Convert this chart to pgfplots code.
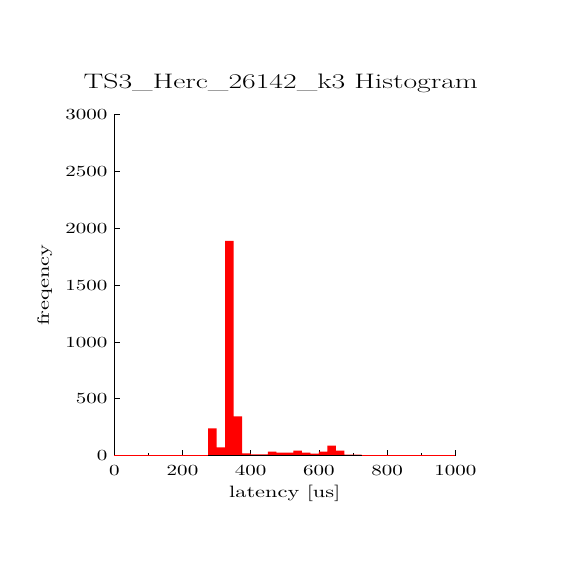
\documentclass[border=0pt]{standalone}
\usepackage{fontspec}
\setmainfont{lmroman10-regular.otf}[FakeStretch=1.36]
\newfontfamily\titlefont{lmroman17-regular.otf}[FakeStretch=1.42]
\usepackage{pgfplots}
\pgfplotsset{compat=1.18}
\begin{document}
\begin{tikzpicture}
\path[use as bounding box] (-114.3bp,-114.3bp) rectangle (455.7bp,455.7bp);
\begin{axis}[
  at={(0,0)}, anchor=south west,
  scale only axis, width=341bp, height=341bp,
  xmin=0, xmax=1000, ymin=0, ymax=3000,
  clip=false,
  axis x line*=bottom, axis y line*=left,
  axis line style={line width=0.8bp, black},
  tick align=inside,
  major tick length=5.5bp, minor tick length=3bp,
  tick style={line width=0.8bp, black},
  xtick={0,200,...,1000}, minor xtick={100,300,...,900},
  ytick={0,500,...,3000},
  /pgf/number format/assume math mode=true,
  /pgf/number format/set thousands separator={},
  ticklabel style={font=\fontsize{15.5}{15.5}\selectfont},
  xticklabel style={anchor=base, inner sep=0pt, yshift=-20bp},
  yticklabel style={anchor=east, inner sep=0pt, xshift=-6.6bp},
  title={TS3\_Herc\_26142\_k3 Histogram},
  title style={at={(axis description cs:0.488,1.0754)}, anchor=base, yshift=-6pt, font=\titlefont\fontsize{21}{21}\selectfont},
  xlabel={latency [us]},
  xlabel style={at={(axis description cs:0.5,-0.1223)}, anchor=base, font=\fontsize{16.5}{16.5}\selectfont},
  ylabel={freqency},
  ylabel style={at={(axis description cs:-0.192,0.5)}, anchor=base, font=\fontsize{16.5}{16.5}\selectfont},
]
\addplot[ybar interval, fill=red, draw=none] coordinates {
(275,240) (300,73) (325,1890) (350,346) (375,20) (400,11) (425,11)
(450,35) (475,26) (500,26) (525,44) (550,26) (575,18) (600,35)
(625,88) (650,44) (675,9) (700,9) (725,0)
};
\addplot[red, line width=1bp] coordinates {(0,0) (275,0)};
\addplot[red, line width=1bp] coordinates {(725,0) (1000,0)};
\addplot[black, line width=0.8bp] coordinates {(275,0) (725,0)};
\end{axis}
\end{tikzpicture}
\end{document}
